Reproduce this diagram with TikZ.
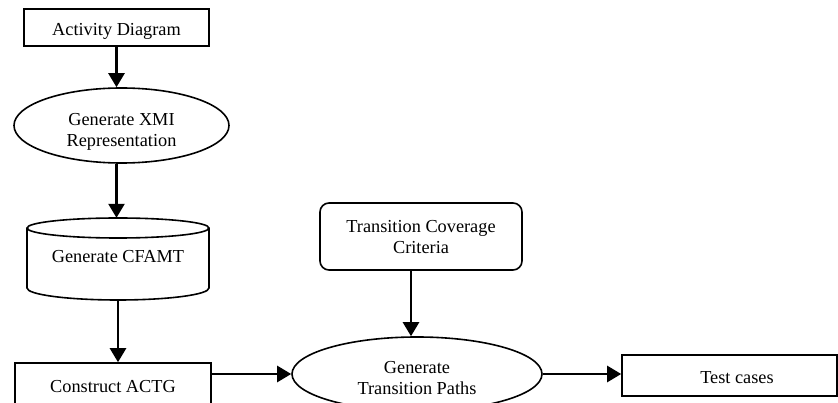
\documentclass[tikz,border=0pt]{standalone}
\usepackage{fontspec}
\setmainfont{Liberation Serif}
\usetikzlibrary{arrows.meta,shapes.geometric}
\begin{document}
\begin{tikzpicture}[x=1pt,y=-1pt,
  shapeline/.style={draw=black,line width=1.6pt,fill=white,inner sep=0pt},
  rbox/.style={shapeline,rectangle},
  ebox/.style={shapeline,ellipse},
  lbl/.style={inner sep=0pt,anchor=base,align=center,font=\fontsize{18.3}{21}\selectfont},
  flow/.style={line width=2.5pt,-{Triangle[length=14pt,width=16pt]}}]
\useasboundingbox (0,0) rectangle (838,403);
\clip (0,0) rectangle (838,403);
\fill[white] (0,0) rectangle (838,403);

% shapes
\node[rbox,minimum width=185pt,minimum height=37pt] (ad) at (116.5,27.5) {};
\node[ebox,minimum width=215pt,minimum height=75pt] (xmi) at (121.5,125.5) {};
\node[inner sep=0pt,minimum width=182pt,minimum height=82pt] (cyl) at (118,259) {};
\draw[line width=1.6pt,fill=white]
  (27,228) arc[start angle=180,end angle=0,x radius=91pt,y radius=10pt]
  -- (209,288) arc[start angle=0,end angle=-180,x radius=91pt,y radius=12pt]
  -- cycle;
\draw[line width=1.6pt] (27,228) arc[start angle=180,end angle=360,x radius=91pt,y radius=10pt];
\node[rbox,minimum width=196pt,minimum height=50pt] (actg) at (113,388) {};
\node[rbox,rounded corners=9pt,minimum width=202pt,minimum height=67pt] (tcc) at (421,236.5) {};
\node[ebox,minimum width=250pt,minimum height=74pt] (tp) at (417,374) {};
\node[rbox,minimum width=215pt,minimum height=41pt] (tc) at (729.5,375.5) {};

% texts (multi-line nodes: base = last line)
\node[lbl] (tad) at (116.5,36) {Activity Diagram};
\node[lbl] (txmi) at (121.5,147) {Generate XMI\\Representation};
\node[lbl] (tcyl) at (118,263) {Generate CFAMT};
\node[lbl] (tactg) at (113,392) {Construct ACTG};
\node[lbl] (ttcc) at (421,254) {Transition Coverage\\Criteria};
\node[lbl] (ttp) at (417,394) {Generate\\Transition Paths};
\node[lbl] (ttc) at (737,383) {Test cases};

% connectors
\draw[flow] (ad.south) -- (ad.south |- xmi.north);
\draw[flow] (ad.south |- xmi.south) -- (ad.south |- cyl.north);
\draw[flow] (cyl.south) -- (cyl.south |- actg.north);
\draw[flow] (actg.east |- tp.west) -- (tp.west);
\draw[flow] ([xshift=-10pt]tcc.south) -- ([xshift=-10pt]tcc.south |- tp.north);
\draw[flow] (tp.east) -- (tc.west |- tp.east);
\end{tikzpicture}
\end{document}
